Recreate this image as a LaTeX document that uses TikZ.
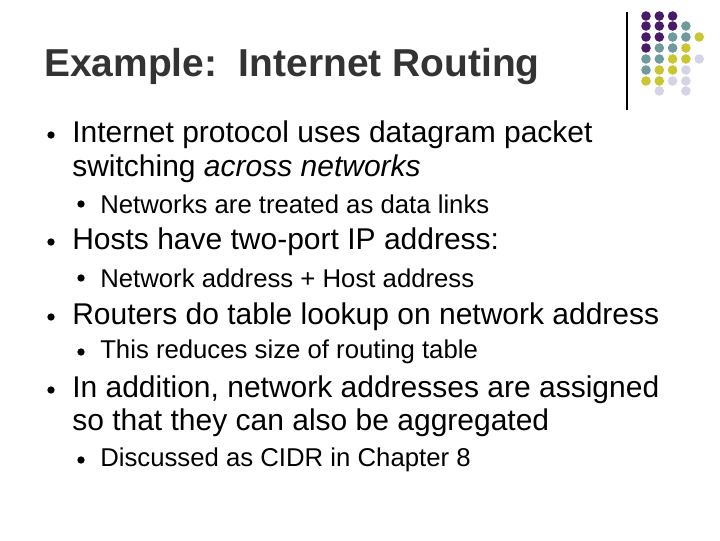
\documentclass[tikz,border=0pt]{standalone}
\usepackage{fontspec}
\setmainfont{Liberation Sans}
\definecolor{pp}{HTML}{4A1A6A}
\definecolor{tl}{HTML}{6F9A9E}
\definecolor{yl}{HTML}{C9C632}
\definecolor{lv}{HTML}{D4D4E6}
\definecolor{tc}{HTML}{333333}
\begin{document}
\begin{tikzpicture}[x=0.75pt,y=-0.75pt,
  l1/.style={anchor=west,font=\fontsize{22.5}{26}\selectfont,inner sep=0},
  l2/.style={anchor=west,font=\fontsize{19.3}{22}\selectfont,inner sep=0},
  blt/.style={circle,fill=black,inner sep=0,minimum size=5.5pt}]
\useasboundingbox (0,0) rectangle (720,540);
\draw[line width=1pt] (627,12) -- (627,110);
\foreach \row/\cols in {16/{pp,pp,pp,,},26/{pp,pp,pp,tl,},37/{pp,pp,tl,tl,yl},48/{pp,tl,tl,yl,},59/{tl,tl,yl,yl,lv},70/{tl,yl,yl,lv,},81/{yl,yl,lv,lv,},91/{,lv,,lv,}}{
  \foreach \c [count=\i] in \cols {
    \ifx\c\empty\else
    \fill[\c] ({646+(\i-1)*13.3},\row) circle (4.8);
    \fi
  }
}
\node[anchor=west,inner sep=0,text=tc,font=\fontsize{29.2}{32}\selectfont\bfseries] (t) at (44,67) {Example:\ \ Internet Routing};
\foreach \y in {135,242,317,390} \node[blt] at (51,\y) {};
\foreach \y in {204,278,352,460} \node[blt] at (81,\y) {};
\node[l1] (a) at (72,135) {Internet protocol uses datagram packet};
\node[l1] (a2) at (72,169) {switching \textit{across networks}};
\node[l2] (a3) at (100,204) {Networks are treated as data links};
\node[l1] (b) at (72,242) {Hosts have two-port IP address:};
\node[l2] (b2) at (100,278) {Network address + Host address};
\node[l1] (c) at (72,317) {Routers do table lookup on network address};
\node[l2] (c2) at (100,352) {This reduces size of routing table};
\node[l1] (d) at (72,390) {In addition, network addresses are assigned};
\node[l1] (d2) at (72,423) {so that they can also be aggregated};
\node[l2] (d3) at (100,460) {Discussed as CIDR in Chapter 8};
\end{tikzpicture}
\end{document}
